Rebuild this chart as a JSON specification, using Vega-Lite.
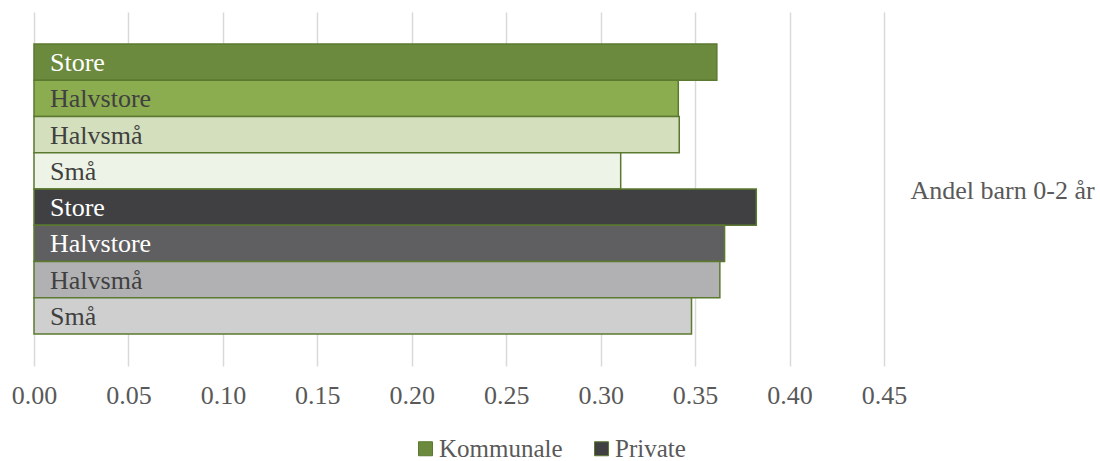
{
  "$schema": "https://vega.github.io/schema/vega-lite/v6.json",
  "autosize": {"type": "none"},
  "width": 850,
  "height": 354,
  "padding": {"left": 34, "top": 12, "right": 216, "bottom": 95},
  "background": "white",
  "config": {
    "font": "Liberation Serif",
    "view": {"stroke": null},
    "axis": {"labelFont": "Liberation Serif", "titleFont": "Liberation Serif"},
    "legend": {"labelFont": "Liberation Serif"}
  },
  "data": {
    "values": [
      {"id": "K-Store", "eier": "Kommunale", "storrelse": "Store", "andel": 0.3615},
      {"id": "K-Halvstore", "eier": "Kommunale", "storrelse": "Halvstore", "andel": 0.3411},
      {"id": "K-Halvsmå", "eier": "Kommunale", "storrelse": "Halvsmå", "andel": 0.3416},
      {"id": "K-Små", "eier": "Kommunale", "storrelse": "Små", "andel": 0.3106},
      {"id": "P-Store", "eier": "Private", "storrelse": "Store", "andel": 0.3824},
      {"id": "P-Halvstore", "eier": "Private", "storrelse": "Halvstore", "andel": 0.3656},
      {"id": "P-Halvsmå", "eier": "Private", "storrelse": "Halvsmå", "andel": 0.3631},
      {"id": "P-Små", "eier": "Private", "storrelse": "Små", "andel": 0.3481}
    ]
  },
  "encoding": {
    "y": {
      "field": "id",
      "type": "nominal",
      "sort": ["K-Store", "K-Halvstore", "K-Halvsmå", "K-Små", "P-Store", "P-Halvstore", "P-Halvsmå", "P-Små"],
      "scale": {"paddingInner": 0, "paddingOuter": 0.88},
      "axis": {
        "orient": "right",
        "labels": false,
        "ticks": false,
        "domain": false,
        "grid": false,
        "title": "Andel barn 0-2 år",
        "titleAngle": 0,
        "titleAlign": "left",
        "titleBaseline": "middle",
        "titleX": 26,
        "titleY": 178,
        "titleFontSize": 26,
        "titleFontWeight": "normal",
        "titleColor": "#595959"
      }
    }
  },
  "layer": [
    {
      "mark": {"type": "bar", "stroke": "#5b7a30", "strokeWidth": 1.5},
      "encoding": {
        "x": {
          "field": "andel",
          "type": "quantitative",
          "scale": {"domain": [0, 0.45]},
          "axis": {
            "values": [0, 0.05, 0.1, 0.15, 0.2, 0.25, 0.3, 0.35, 0.4, 0.45],
            "format": ".2f",
            "title": null,
            "domain": false,
            "ticks": false,
            "grid": true,
            "gridColor": "#d9d9d9",
            "gridWidth": 1.5,
            "labelFontSize": 26,
            "labelColor": "#595959",
            "labelPadding": 16,
            "labelFlush": false,
            "labelOverlap": false
          }
        },
        "fill": {
          "field": "id",
          "type": "nominal",
          "scale": {
            "domain": ["K-Store", "K-Halvstore", "K-Halvsmå", "K-Små", "P-Store", "P-Halvstore", "P-Halvsmå", "P-Små"],
            "range": ["#6b8a3e", "#8cac50", "#d3dfbd", "#eef3e7", "#404042", "#5f5f61", "#b1b1b3", "#cfcfcf"]
          },
          "legend": null
        }
      }
    },
    {
      "mark": {"type": "text", "align": "left", "baseline": "middle", "dx": 16, "dy": 1, "fontSize": 26},
      "encoding": {
        "x": {"datum": 0, "type": "quantitative"},
        "text": {"field": "storrelse"},
        "color": {
          "condition": {"test": "indexof(['K-Store','P-Store','P-Halvstore'], datum.id) >= 0", "value": "#ffffff"},
          "value": "#404040"
        }
      }
    },
    {
      "mark": {"type": "point", "shape": "square", "filled": true, "opacity": 0},
      "encoding": {
        "x": {"field": "andel", "type": "quantitative"},
        "color": {
          "field": "eier",
          "type": "nominal",
          "scale": {"domain": ["Kommunale", "Private"], "range": ["#6b8a3e", "#404042"]},
          "legend": {
            "title": null,
            "orient": "none",
            "direction": "horizontal",
            "legendX": 379,
            "legendY": 424,
            "symbolType": "square",
            "symbolSize": 196,
            "symbolOpacity": 1,
            "symbolStrokeColor": "#5b7a30",
            "symbolStrokeWidth": 1,
            "labelFontSize": 25,
            "labelColor": "#595959",
            "labelOffset": 1,
            "columnPadding": 26
          }
        }
      }
    }
  ],
  "resolve": {"scale": {"color": "independent"}}
}
